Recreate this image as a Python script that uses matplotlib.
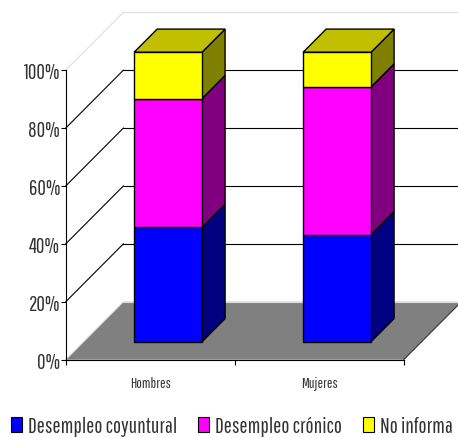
import matplotlib
matplotlib.use('Agg')
import matplotlib.pyplot as plt
from matplotlib.patches import Patch

# Datos del grafico (porcentajes)
categorias = ['Hombres', 'Mujeres']
series = ['Desempleo coyuntural', 'Desempleo crónico', 'No informa']
coyuntural = [39.5, 37.0]
cronico = [44.5, 51.0]
no_informa = [16.0, 12.0]
valores = [coyuntural, cronico, no_informa]
marcas_y = [0, 20, 40, 60, 80, 100]

# Colores por serie: frente, lado, tapa
frente = ['#0000FF', '#FF00FF', '#FFFF00']
lado = ['#000080', '#800080', '#808000']
tapa = '#C0C000'

# Profundidad de la caja en unidades de datos
prof_x = 0.341
prof_y = 20.0
ancho = 0.402
d0 = 0.31   # donde empieza la barra dentro de la caja
d1 = 0.71   # donde termina

plt.rcParams['font.family'] = ['Pathway Gothic One', 'Archivo Narrow', 'Liberation Sans', 'DejaVu Sans']

W, H = 458, 439
fig = plt.figure(figsize=(W / 100, H / 100), dpi=100)
ax = fig.add_axes([65.7 / W, 1 - 360.7 / H, 338.0 / W, 289.5 / H])
ax.set_xlim(0, 2)
ax.set_ylim(0, 100)


def proyectar(x, y, d):
    return x + d * prof_x, y + d * prof_y


# Piso gris
pts = [proyectar(0, 0, 0), proyectar(0, 0, 1), proyectar(2, 0, 1), proyectar(2, 0, 0)]
ax.fill([p[0] for p in pts], [p[1] for p in pts], color='#808080', lw=0, clip_on=False, zorder=1)

# Lineas de la pared del fondo y la pared izquierda
for m in marcas_y:
    color = '#000000'
    if m == 0 or m == 100:
        color = '#DDDDDD'
    x0, y0 = proyectar(0, m, 0)
    x1, y1 = proyectar(0, m, 1)
    x2, y2 = proyectar(2, m, 1)
    ax.plot([x0, x1], [y0, y1], color=color, lw=0.8, clip_on=False, zorder=1.5)
    ax.plot([x1, x2], [y1, y2], color=color, lw=0.8, clip_on=False, zorder=1.5)

# Borde derecho del piso
x0, y0 = proyectar(2, 0, 0)
x1, y1 = proyectar(2, 0, 1)
ax.plot([x0, x1], [y0, y1], color='#333333', lw=0.8, clip_on=False, zorder=1.6)

# Barras apiladas con lado y tapa
for i in range(len(categorias)):
    cx = i + 0.5 + d0 * prof_x
    base = d0 * prof_y
    izq = cx - ancho / 2
    der = cx + ancho / 2
    dd = d1 - d0
    acum = 0
    for s in range(len(series)):
        v = valores[s][i]
        ax.bar(cx, v, ancho, bottom=base + acum, color=frente[s], edgecolor='black', lw=1,
               clip_on=False, zorder=3)
        xs = [der, der + dd * prof_x, der + dd * prof_x, der]
        ys = [base + acum, base + acum + dd * prof_y, base + acum + v + dd * prof_y, base + acum + v]
        ax.fill(xs, ys, facecolor=lado[s], edgecolor='black', lw=1, clip_on=False, zorder=2.5)
        acum += v
    xs = [izq, izq + dd * prof_x, der + dd * prof_x, der]
    ys = [base + acum, base + acum + dd * prof_y, base + acum + dd * prof_y, base + acum]
    ax.fill(xs, ys, facecolor=tapa, edgecolor='black', lw=1, clip_on=False, zorder=2.5)

# Ejes
ax.patch.set_visible(False)
ax.spines['top'].set_visible(False)
ax.spines['right'].set_visible(False)
ax.spines['left'].set_zorder(2)
ax.spines['bottom'].set_zorder(2)
ax.set_yticks(marcas_y)
ax.set_yticklabels([str(m) + '%' for m in marcas_y], fontsize=15, color='#333333')
ax.tick_params(axis='y', length=3.5, width=0.8, pad=0.5)
ax.set_xticks([0, 1, 2])
ax.set_xticklabels([])
ax.tick_params(axis='x', which='major', length=3.5, width=0.8)
ax.set_xticks([0.5, 1.5], minor=True)
ax.set_xticklabels(categorias, minor=True, fontsize=10.5, color='#333333')
ax.tick_params(axis='x', which='minor', length=0, pad=11.5)

# Leyenda
handles = [Patch(facecolor=frente[s], edgecolor='black', lw=0.8) for s in range(3)]
fig.legend(handles, series, loc='lower left', bbox_to_anchor=(11 / W, 1 - 437 / H), ncol=3,
           frameon=False, fontsize=15.5, labelcolor='#333333', borderpad=0, borderaxespad=0,
           handlelength=0.5, handleheight=0.65, handletextpad=0.28, columnspacing=0.98)

fig.savefig('out.png', dpi=100)
